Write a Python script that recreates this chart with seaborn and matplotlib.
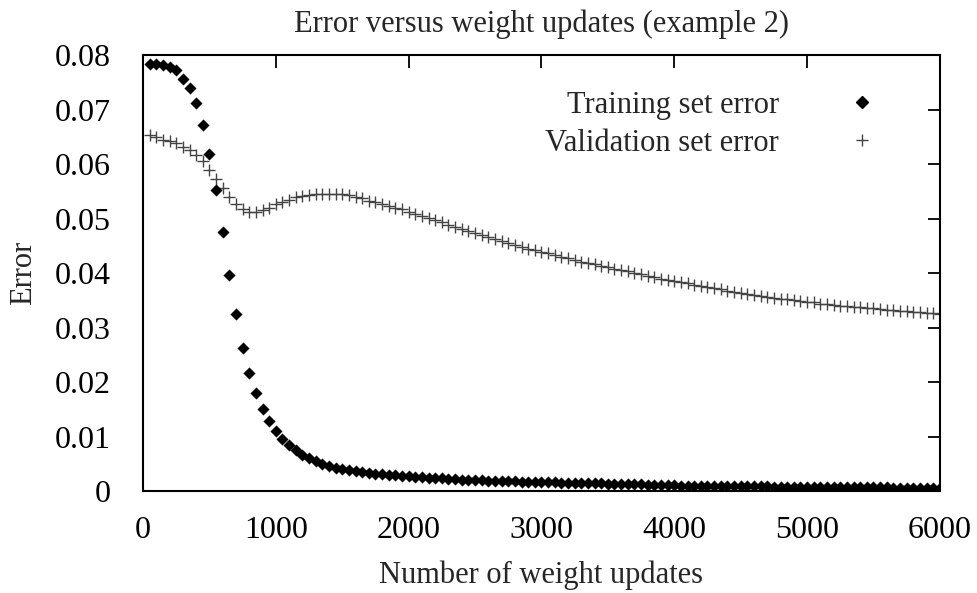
import numpy as np
import pandas as pd
import matplotlib
matplotlib.use("Agg")
import matplotlib.pyplot as plt
import seaborn as sns
from matplotlib.lines import Line2D

# weight updates, one sample every 50 updates
UPDATES = list(range(50, 6001, 50))

TRAIN_ERR = [
    0.0784, 0.0783, 0.0782, 0.0778, 0.0772, 0.0757, 0.0739, 0.0713, 0.0672, 0.0619,
    0.0553, 0.0475, 0.0396, 0.0324, 0.0263, 0.0216, 0.0179, 0.0150, 0.0129, 0.0110,
    0.0096, 0.0084, 0.0075, 0.0067, 0.0061, 0.0055, 0.0050, 0.0046, 0.0043, 0.0040,
    0.0038, 0.0036, 0.0035, 0.0033, 0.0032, 0.0031, 0.0030, 0.0029, 0.0028, 0.0027,
    0.0026, 0.0025, 0.0024, 0.0024, 0.0023, 0.0022, 0.0022, 0.0021, 0.0021, 0.0020,
    0.0020, 0.0019, 0.0019, 0.0018, 0.0018, 0.0018, 0.0017, 0.0017, 0.0017, 0.0016,
    0.0016, 0.0016, 0.0015, 0.0015, 0.0015, 0.0015, 0.0014, 0.0014, 0.0014, 0.0013,
    0.0013, 0.0013, 0.0012, 0.0012, 0.0012, 0.0011, 0.0011, 0.0011, 0.0011, 0.0011,
    0.0010, 0.0010, 0.0010, 0.0010, 0.0010, 0.0010, 0.0009, 0.0009, 0.0009, 0.0009,
    0.0009, 0.0009, 0.0009, 0.0009, 0.0008, 0.0008, 0.0008, 0.0008, 0.0008, 0.0008,
    0.0008, 0.0008, 0.0008, 0.0007, 0.0007, 0.0007, 0.0007, 0.0007, 0.0007, 0.0007,
    0.0007, 0.0007, 0.0006, 0.0006, 0.0006, 0.0006, 0.0006, 0.0006, 0.0006, 0.0006,
]

VALID_ERR = [
    0.0653, 0.0649, 0.0645, 0.0642, 0.0638, 0.0631, 0.0625, 0.0616, 0.0605, 0.0590,
    0.0573, 0.0556, 0.0540, 0.0526, 0.0517, 0.0512, 0.0512, 0.0515, 0.0520, 0.0526,
    0.0530, 0.0535, 0.0539, 0.0542, 0.0544, 0.0545, 0.0546, 0.0546, 0.0546, 0.0545,
    0.0543, 0.0540, 0.0537, 0.0533, 0.0530, 0.0527, 0.0524, 0.0520, 0.0517, 0.0513,
    0.0509, 0.0505, 0.0501, 0.0497, 0.0493, 0.0489, 0.0485, 0.0481, 0.0477, 0.0473,
    0.0469, 0.0466, 0.0462, 0.0459, 0.0455, 0.0452, 0.0448, 0.0445, 0.0442, 0.0439,
    0.0436, 0.0433, 0.0430, 0.0427, 0.0424, 0.0421, 0.0419, 0.0416, 0.0413, 0.0411,
    0.0408, 0.0405, 0.0403, 0.0400, 0.0398, 0.0395, 0.0393, 0.0390, 0.0388, 0.0386,
    0.0384, 0.0381, 0.0379, 0.0377, 0.0375, 0.0372, 0.0370, 0.0368, 0.0366, 0.0363,
    0.0361, 0.0359, 0.0358, 0.0356, 0.0355, 0.0353, 0.0352, 0.0350, 0.0349, 0.0347,
    0.0346, 0.0344, 0.0343, 0.0342, 0.0340, 0.0339, 0.0338, 0.0337, 0.0336, 0.0335,
    0.0334, 0.0333, 0.0332, 0.0331, 0.0330, 0.0329, 0.0328, 0.0327, 0.0326, 0.0325,
]

X_TICKS = [0, 1000, 2000, 3000, 4000, 5000, 6000]
Y_TICKS = [0, 0.01, 0.02, 0.03, 0.04, 0.05, 0.06, 0.07, 0.08]
Y_TICK_LABELS = ["0", "0.01", "0.02", "0.03", "0.04", "0.05", "0.06", "0.07", "0.08"]

df = pd.DataFrame({"updates": UPDATES, "train": TRAIN_ERR, "valid": VALID_ERR})

sns.set_style("white")
plt.rcParams["font.family"] = ["Liberation Serif", "DejaVu Serif"]
FS_TICK = 23
FS = 22

fig = plt.figure(figsize=(9.77, 5.93), dpi=100)
ax = fig.add_axes([0.1464, 0.172, 0.8156, 0.735])

sns.scatterplot(data=df, x="updates", y="valid", marker="+", color="#444444",
                s=75, linewidth=1.0, ax=ax, legend=False, zorder=2)
sns.scatterplot(data=df, x="updates", y="train", marker="D", color="black",
                s=38, linewidth=0, ax=ax, legend=False, zorder=3)

ax.set_xlim(0, 6000)
ax.set_ylim(0, 0.08)
ax.set_xticks(X_TICKS)
ax.set_xticklabels([str(t) for t in X_TICKS])
ax.set_yticks(Y_TICKS)
ax.set_yticklabels(Y_TICK_LABELS)
ax.tick_params(direction="in", length=9, width=1.3, top=True, right=True,
               labelsize=FS_TICK, colors="black")
ax.tick_params(axis="x", pad=18)
ax.tick_params(axis="y", pad=23)
for sp in ax.spines.values():
    sp.set_linewidth(1.5)
    sp.set_color("black")

ax.set_xlabel("Number of weight updates", fontsize=FS, labelpad=11)
ax.set_ylabel("Error", fontsize=FS, labelpad=12)
ax.set_title("Error versus weight updates (example 2)", fontsize=FS, pad=17)

handles = [
    Line2D([], [], linestyle="none", marker="D", color="black", markersize=6),
    Line2D([], [], linestyle="none", marker="+", color="#444444", markersize=9, markeredgewidth=1.0),
]
ax.legend(handles, ["Training set error", "Validation set error"], loc="upper right",
          markerfirst=False, frameon=False, fontsize=FS, handlelength=1.0,
          handletextpad=2.2, labelspacing=0.3, borderaxespad=0, borderpad=0,
          bbox_to_anchor=(0.921, 0.918))

fig.savefig("out.png", dpi=100)
